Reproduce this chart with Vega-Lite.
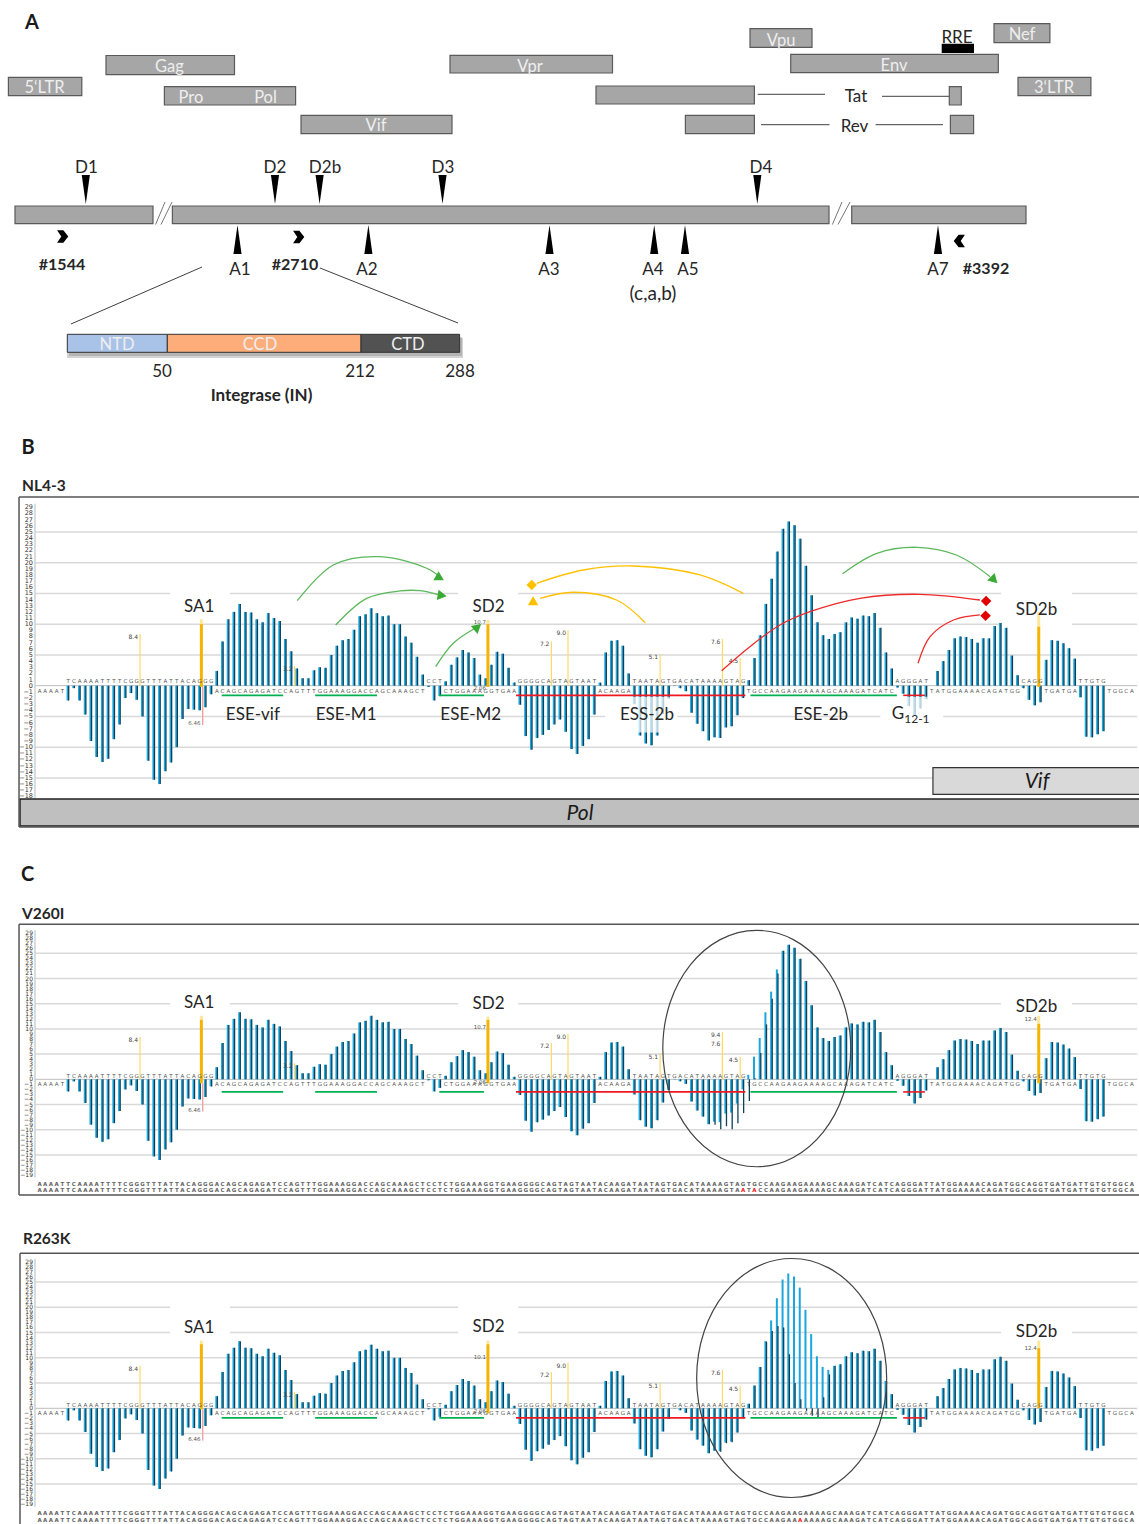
{"$schema":"https://vega.github.io/schema/vega-lite/v6.json","padding":0,"spacing":0,"background":"white","config":{"view":{"stroke":null},"axis":{"disable":true},"legend":{"disable":true},"text":{"font":"Lato"}},
"datasets":{
"seq":[{"p":0,"b":"A"},{"p":1,"b":"A"},{"p":2,"b":"A"},{"p":3,"b":"A"},{"p":4,"b":"T"},
{"p":5,"b":"T","w":-2.4,"v":-2.4,"r":-2.4},{"p":6,"b":"C","w":-0.4,"v":-0.4,"r":-0.4},{"p":7,"b":"A","w":-2.4,"v":-2.4,"r":-2.4},{"p":8,"b":"A","w":-4.7,"v":-4.7,"r":-4.7},{"p":9,"b":"A","w":-9,"v":-9,"r":-9},{"p":10,"b":"A","w":-11.6,"v":-11.6,"r":-11.6},{"p":11,"b":"T","w":-12.4,"v":-12.4,"r":-12.4},{"p":12,"b":"T","w":-11.9,"v":-11.9,"r":-11.9},{"p":13,"b":"T","w":-8.7,"v":-8.7,"r":-8.7},{"p":14,"b":"T","w":-6.3,"v":-6.3,"r":-6.3},{"p":15,"b":"C","w":-2,"v":-2,"r":-2},{"p":16,"b":"G","w":-1.2,"v":-1.2,"r":-1.2},{"p":17,"b":"G","w":-2.3,"v":-2.3,"r":-2.3},{"p":18,"b":"G","w":-5,"v":-5,"r":-5},{"p":19,"b":"T","w":-12.2,"v":-12.2,"r":-12.2},{"p":20,"b":"T","w":-15.3,"v":-15.3,"r":-15.3},{"p":21,"b":"T","w":-16,"v":-16,"r":-16},{"p":22,"b":"A","w":-13.9,"v":-13.9,"r":-13.9},{"p":23,"b":"T","w":-12.5,"v":-12.5,"r":-12.5},{"p":24,"b":"T","w":-10,"v":-10,"r":-10},{"p":25,"b":"A","w":-5.4,"v":-5.4,"r":-5.4},{"p":26,"b":"C","w":-3.8,"v":-3.8,"r":-3.8},{"p":27,"b":"A","w":-3.9,"v":-3.9,"r":-3.9},{"p":28,"b":"G","w":-4,"v":-4,"r":-4},{"p":29,"b":"G","w":-3.5,"v":-3.5,"r":-3.5},{"p":30,"b":"G","w":-1.4,"v":-1.4,"r":-1.4},
{"p":31,"b":"A","w":2.4,"v":2.4,"r":2.4},{"p":32,"b":"C","w":7.2,"v":7.2,"r":7.2},{"p":33,"b":"A","w":10.8,"v":10.8,"r":10.8},{"p":34,"b":"G","w":12,"v":12,"r":12},{"p":35,"b":"C","w":13.3,"v":13.3,"r":13.3},{"p":36,"b":"A","w":12,"v":12,"r":12},{"p":37,"b":"G","w":11.9,"v":11.9,"r":11.9},{"p":38,"b":"A","w":10.8,"v":10.8,"r":10.8},{"p":39,"b":"G","w":10.3,"v":10.3,"r":10.3},{"p":40,"b":"A","w":11.8,"v":11.8,"r":11.8},{"p":41,"b":"T","w":11,"v":11,"r":11},{"p":42,"b":"C","w":10.5,"v":10.5,"r":10.5},{"p":43,"b":"C","w":7.6,"v":7.6,"r":7.6},{"p":44,"b":"A","w":5.6,"v":5.6,"r":5.6},{"p":45,"b":"G","w":2.8,"v":2.8,"r":2.8},{"p":46,"b":"T","w":1.2,"v":1.2,"r":1.2},{"p":47,"b":"T","w":1.2,"v":1.2,"r":1.2},{"p":48,"b":"T","w":2.5,"v":2.5,"r":2.5},{"p":49,"b":"G","w":3,"v":3,"r":3},{"p":50,"b":"G","w":2.9,"v":2.9,"r":2.9},{"p":51,"b":"A","w":5,"v":5,"r":5},{"p":52,"b":"A","w":6.5,"v":6.5,"r":6.5},{"p":53,"b":"A","w":7.4,"v":7.4,"r":7.4},{"p":54,"b":"G","w":7.6,"v":7.6,"r":7.6},{"p":55,"b":"G","w":9.1,"v":9.1,"r":9.1},{"p":56,"b":"A","w":11.3,"v":11.3,"r":11.3},{"p":57,"b":"C","w":11.6,"v":11.6,"r":11.6},{"p":58,"b":"C","w":12.6,"v":12.6,"r":12.6},{"p":59,"b":"A","w":11.8,"v":11.8,"r":11.8},{"p":60,"b":"G","w":11.3,"v":11.3,"r":11.3},{"p":61,"b":"C","w":11.4,"v":11.4,"r":11.4},{"p":62,"b":"A","w":10,"v":10,"r":10},{"p":63,"b":"A","w":10,"v":10,"r":10},{"p":64,"b":"A","w":8,"v":8,"r":8},{"p":65,"b":"G","w":7,"v":7,"r":7},{"p":66,"b":"C","w":4.7,"v":4.7,"r":4.7},{"p":67,"b":"T","w":1.8,"v":1.8,"r":1.8},
{"p":68,"b":"C","w":-0.2,"v":-0.2,"r":-0.2},{"p":69,"b":"C","w":-2.4,"v":-2.4,"r":-2.4},{"p":70,"b":"T","w":-1.7,"v":-1.7,"r":-1.7},{"p":71,"b":"C","w":0.7,"v":0.7,"r":0.7},{"p":72,"b":"T","w":3.4,"v":3.4,"r":3.4},{"p":73,"b":"G","w":4.6,"v":4.6,"r":4.6},{"p":74,"b":"G","w":5.8,"v":5.8,"r":5.8},{"p":75,"b":"A","w":5.4,"v":5.4,"r":5.4},{"p":76,"b":"A","w":4.5,"v":4.5,"r":4.5},{"p":77,"b":"A","w":1.8,"v":1.8,"r":1.8},{"p":78,"b":"G","w":1.2,"v":1.2,"r":1.2},{"p":79,"b":"G","w":3.4,"v":3.4,"r":3.4},{"p":80,"b":"T","w":5.5,"v":5.5,"r":5.5},{"p":81,"b":"G","w":5.2,"v":5.2,"r":5.2},{"p":82,"b":"A","w":2.9,"v":2.9,"r":2.9},{"p":83,"b":"A","w":0.5,"v":0.5,"r":0.5},
{"p":84,"b":"G","w":-3.1,"v":-3.1,"r":-3.1},{"p":85,"b":"G","w":-8.2,"v":-8.2,"r":-8.2},{"p":86,"b":"G","w":-10.4,"v":-10.4,"r":-10.4},{"p":87,"b":"G","w":-8.5,"v":-8.5,"r":-8.5},{"p":88,"b":"C","w":-8,"v":-8,"r":-8},{"p":89,"b":"A","w":-7.2,"v":-7.2,"r":-7.2},{"p":90,"b":"G","w":-6.3,"v":-6.3,"r":-6.3},{"p":91,"b":"T","w":-5.5,"v":-5.5,"r":-5.5},{"p":92,"b":"A","w":-7.5,"v":-7.5,"r":-7.5},{"p":93,"b":"G","w":-10.3,"v":-10.3,"r":-10.3},{"p":94,"b":"T","w":-11.1,"v":-11.1,"r":-11.1},{"p":95,"b":"A","w":-9.8,"v":-9.8,"r":-9.8},{"p":96,"b":"A","w":-8.7,"v":-8.7,"r":-8.7},{"p":97,"b":"T","w":-4.7,"v":-4.7,"r":-4.7},
{"p":98,"b":"A","w":0.5,"v":0.5,"r":0.5},{"p":99,"b":"C","w":5.4,"v":5.4,"r":5.4},{"p":100,"b":"A","w":7.3,"v":7.3,"r":7.3},{"p":101,"b":"A","w":7.4,"v":7.4,"r":7.4},{"p":102,"b":"G","w":6.5,"v":6.5,"r":6.5},{"p":103,"b":"A","w":2,"v":2,"r":2},
{"p":104,"b":"T","w":-3,"v":-3,"r":-3},{"p":105,"b":"A","w":-8.1,"v":-8.1,"r":-8.1},{"p":106,"b":"A","w":-9.4,"v":-9.4,"r":-9.4},{"p":107,"b":"T","w":-9.7,"v":-9.7,"r":-9.7},{"p":108,"b":"A","w":-8.1,"v":-8.1,"r":-8.1},{"p":109,"b":"G","w":-4.6,"v":-4.6,"r":-4.6},{"p":110,"b":"T","w":-2.1,"v":-2.1,"r":-2.1},{"p":111,"b":"G","w":-0.05,"v":-0.05,"r":-0.05},{"p":112,"b":"A","w":-0.4,"v":-0.4,"r":-0.4},{"p":113,"b":"C","w":-0.9,"v":-0.9,"r":-0.9},{"p":114,"b":"A","w":-4.4,"v":-4.4,"r":-4.4},{"p":115,"b":"T","w":-6.2,"v":-6.2,"r":-6.2},{"p":116,"b":"A","w":-7.4,"v":-7.4,"r":-7.4},{"p":117,"b":"A","w":-8.9,"v":-8.9,"r":-8.9},{"p":118,"b":"A","w":-8.4,"v":-9,"r":-8.4},{"p":119,"b":"A","w":-8.5,"v":-9.9,"r":-8.6},{"p":120,"b":"G","w":-6.8,"v":-9.3,"r":-6.9},{"p":121,"b":"T","w":-6.6,"v":-9.9,"r":-6.7},{"p":122,"b":"A","w":-4.8,"v":-8.7,"r":-4.8},{"p":123,"b":"G","w":-2,"v":-6.7,"r":-2},
{"p":124,"b":"T","w":0.9,"v":-4.3,"r":0.9},{"p":125,"b":"G","w":4.5,"v":0.2,"r":4.5},{"p":126,"b":"C","w":8.2,"v":5.2,"r":8.2},{"p":127,"b":"C","w":13.3,"v":10.9,"r":13.2},{"p":128,"b":"A","w":17.4,"v":16,"r":15.3},{"p":129,"b":"A","w":21.8,"v":21,"r":16.3},{"p":130,"b":"G","w":25.5,"v":25.5,"r":16},{"p":131,"b":"A","w":26.7,"v":26.7,"r":10.7},{"p":132,"b":"A","w":26.1,"v":26.1,"r":5},{"p":133,"b":"G","w":23.9,"v":23.9,"r":1.8},{"p":134,"b":"A","w":19.5,"v":19.5,"r":-0.5},{"p":135,"b":"A","w":14.7,"v":14.7,"r":-1.5},{"p":136,"b":"A","w":10.3,"v":10.3,"r":-1.8},{"p":137,"b":"A","w":8.2,"v":8.2,"r":2.2},{"p":138,"b":"G","w":7.6,"v":7.6,"r":6.7},{"p":139,"b":"C","w":8.4,"v":8.4,"r":8.4},{"p":140,"b":"A","w":8.7,"v":8.7,"r":8.7},{"p":141,"b":"A","w":10.3,"v":10.3,"r":10.3},{"p":142,"b":"A","w":11.1,"v":11.1,"r":11.1},{"p":143,"b":"G","w":10.9,"v":10.9,"r":10.9},{"p":144,"b":"A","w":11.4,"v":11.4,"r":11.4},{"p":145,"b":"T","w":11.3,"v":11.3,"r":11.3},{"p":146,"b":"C","w":11.8,"v":11.8,"r":11.8},{"p":147,"b":"A","w":9.4,"v":9.4,"r":9.4},{"p":148,"b":"T","w":5.4,"v":5.4,"r":5.4},{"p":149,"b":"C","w":2.8,"v":2.8,"r":2.8},
{"p":150,"b":"A","w":-0.3,"v":-0.3,"r":-0.3},{"p":151,"b":"G","w":-1.3,"v":-1.3,"r":-1.3},{"p":152,"b":"G","w":-3.3,"v":-3.3,"r":-3.3},{"p":153,"b":"G","w":-4.8,"v":-4.8,"r":-4.8},{"p":154,"b":"A","w":-3.7,"v":-3.7,"r":-3.7},{"p":155,"b":"T","w":-2.2,"v":-2.2,"r":-2.2},{"p":156,"b":"T"},
{"p":157,"b":"A","w":2.4,"v":2.4,"r":2.4},{"p":158,"b":"T","w":4,"v":4,"r":4},{"p":159,"b":"G","w":5.8,"v":5.8,"r":5.8},{"p":160,"b":"G","w":7.7,"v":7.7,"r":7.7},{"p":161,"b":"A","w":8,"v":8,"r":8},{"p":162,"b":"A","w":7.9,"v":7.9,"r":7.9},{"p":163,"b":"A","w":7.6,"v":7.6,"r":7.6},{"p":164,"b":"A","w":7,"v":7,"r":7},{"p":165,"b":"C","w":7.7,"v":7.7,"r":7.7},{"p":166,"b":"A","w":7.7,"v":7.7,"r":7.7},{"p":167,"b":"G","w":9.7,"v":9.7,"r":9.7},{"p":168,"b":"A","w":10.2,"v":10.2,"r":10.2},{"p":169,"b":"T","w":9.4,"v":9.4,"r":9.4},{"p":170,"b":"G","w":4.9,"v":4.9,"r":4.9},{"p":171,"b":"G","w":1.7,"v":1.7,"r":1.7},
{"p":172,"b":"C","w":-0.4,"v":-0.4,"r":-0.4},{"p":173,"b":"A","w":-2.3,"v":-2.3,"r":-2.3},{"p":174,"b":"G","w":-3.2,"v":-3.2,"r":-3.2},{"p":175,"b":"G","w":-2.7,"v":-2.7,"r":-2.7},
{"p":176,"b":"T","w":4.2,"v":4.2,"r":4.2},{"p":177,"b":"G","w":7.4,"v":7.4,"r":7.4},{"p":178,"b":"A","w":7.3,"v":7.3,"r":7.3},{"p":179,"b":"T","w":6.9,"v":6.9,"r":6.9},{"p":180,"b":"G","w":6.1,"v":6.1,"r":6.1},{"p":181,"b":"A","w":4.4,"v":4.4,"r":4.4},
{"p":182,"b":"T","w":-1.9,"v":-1.9,"r":-1.9},{"p":183,"b":"T","w":-8.3,"v":-8.3,"r":-8.3},{"p":184,"b":"G","w":-8.4,"v":-8.4,"r":-8.4},{"p":185,"b":"T","w":-7.9,"v":-7.9,"r":-7.9},{"p":186,"b":"G","w":-7.4,"v":-7.4,"r":-7.4},
{"p":187,"b":"T"},{"p":188,"b":"G"},{"p":189,"b":"G"},{"p":190,"b":"C"},{"p":191,"b":"A"}],
"ticks":[{"t":29},{"t":28},{"t":27},{"t":26},{"t":25},{"t":24},{"t":23},{"t":22},{"t":21},{"t":20},{"t":19},{"t":18},{"t":17},{"t":16},{"t":15},{"t":14},{"t":13},{"t":12},{"t":11},{"t":10},{"t":9},{"t":8},{"t":7},{"t":6},{"t":5},{"t":4},{"t":3},{"t":2},{"t":1},{"t":0},{"t":-1},{"t":-2},{"t":-3},{"t":-4},{"t":-5},{"t":-6},{"t":-7},{"t":-8},{"t":-9},{"t":-10},{"t":-11},{"t":-12},{"t":-13},{"t":-14},{"t":-15},{"t":-16},{"t":-17},{"t":-18},{"t":-19}],
"grid":[{"g":25},{"g":20},{"g":15},{"g":10},{"g":5},{"g":-5},{"g":-10},{"g":-15}],
"under":[{"p1":31.85,"p2":42.6,"k":"ESE"},{"p1":48.2,"p2":59,"k":"ESE"},{"p1":69.9,"p2":77.7,"k":"ESE"},{"p1":83.3,"p2":123.4,"k":"ESS"},{"p1":124.3,"p2":149.9,"k":"ESE"},{"p1":151,"p2":154.8,"k":"ESS"}],
"masksB":[{"x1":22.8,"x2":33.3,"y1":14.4,"y2":15.6},{"x1":73.2,"x2":83.7,"y1":14.4,"y2":15.6},{"x1":168.1,"x2":180.5,"y1":9.4,"y2":15.6},{"x1":147,"x2":158,"y1":-4.6,"y2":-5.4},{"x1":98.9,"x2":111.5,"y1":-4.6,"y2":-5.4}],
"masksC":[{"x1":22.8,"x2":33.3,"y1":14.5,"y2":15.5},{"x1":73.2,"x2":83.7,"y1":14.5,"y2":15.5},{"x1":168.1,"x2":180.5,"y1":14.5,"y2":15.5}],
"masksR":[{"x1":22.8,"x2":33.3,"y1":14.5,"y2":15.5},{"x1":73.2,"x2":83.7,"y1":14.5,"y2":15.5},{"x1":168.1,"x2":180.5,"y1":14.5,"y2":15.5},{"x1":22.8,"x2":33.3,"y1":19.5,"y2":20.5},{"x1":73.2,"x2":83.7,"y1":19.5,"y2":20.5}],
"veilB":[{"x1":103.6,"x2":110.2,"y1":-1.8,"y2":-7.6},{"x1":150.4,"x2":155.3,"y1":-1.8,"y2":-4.9}],
"sitesB":[{"p":17.57,"s":8.4},{"p":44.6,"s":3.2},{"p":89.5,"s":7.2},{"p":92.4,"s":9},{"p":108.5,"s":5.1},{"p":119.4,"s":7.6},{"p":122.5,"s":4.5}],
"sitesC":[{"p":17.57,"s":8.4},{"p":44.6,"s":3.2},{"p":89.5,"s":7.2},{"p":92.4,"s":9},{"p":108.5,"s":5.1},{"p":119.4,"s":9.4},{"p":119.4,"s":7.6},{"p":122.5,"s":4.5}],
"donorsB":[{"p":28.3,"light":10.8,"dark":10,"low":-0.2},{"p":78.4,"light":10.7,"dark":10,"low":-0.2},{"p":174.7,"light":12,"dark":9.6,"low":-0.2}],
"donorsC":[{"p":28.3,"light":12.6,"dark":11.8,"low":-0.8},{"p":78.4,"light":12.45,"dark":11.8,"low":-0.8},{"p":174.7,"light":12.6,"dark":11,"low":-0.8}],
"donorsR":[{"p":28.3,"light":13.4,"dark":12.7,"low":-0.2},{"p":78.4,"light":13.4,"dark":12.7,"low":-1},{"p":174.7,"light":13.4,"dark":11.9,"low":0}],
"notesB":[{"p":78.4,"y":10.3,"t":"10.7"},{"p":78.4,"y":-0.45,"t":"2.06"},{"p":28.5,"y":-6,"t":"6.46"}],
"notesC":[{"p":78.4,"y":10.3,"t":"10.7"},{"p":78.4,"y":-0.5,"t":"2.06"},{"p":28.5,"y":-6,"t":"6.46"},{"p":174.7,"y":12,"t":"12.4"}],
"notesR":[{"p":78.4,"y":10.2,"t":"10.1"},{"p":78.4,"y":-0.5,"t":"2.06"},{"p":28.5,"y":-6.07,"t":"6.46"},{"p":174.7,"y":11.9,"t":"12.4"}],
"labelsB":[{"p":27.9,"y":13.1,"t":"SA1"},{"p":78.5,"y":13.1,"t":"SD2"},{"p":174.3,"y":12.47,"t":"SD2b"},{"p":37.3,"y":-4.6,"t":"ESE-vif"},{"p":53.6,"y":-4.6,"t":"ESE-M1"},{"p":75.4,"y":-4.6,"t":"ESE-M2"},{"p":106.2,"y":-4.6,"t":"ESS-2b"},{"p":136.6,"y":-4.6,"t":"ESE-2b"},{"p":150.1,"y":-4.44,"t":"G"}],
"labelsC":[{"p":27.9,"y":15.4,"t":"SA1"},{"p":78.5,"y":15.34,"t":"SD2"},{"p":174.3,"y":14.6,"t":"SD2b"}],
"labelsR":[{"p":27.9,"y":16.2,"t":"SA1"},{"p":78.5,"y":16.3,"t":"SD2"},{"p":174.3,"y":15.4,"t":"SD2b"}],
"curves":[
{"c":"g1","k":"green","p":45.07,"y":13.82},{"c":"g1","k":"green","p":51.36,"y":19.63},{"c":"g1","k":"green","p":59.53,"y":20.98},{"c":"g1","k":"green","p":67.69,"y":19.09},{"c":"g1","k":"green","p":70.02,"y":17.67},
{"c":"g2","k":"green","p":51.78,"y":9.87},{"c":"g2","k":"green","p":57.2,"y":14.2},{"c":"g2","k":"green","p":63.02,"y":15.4},{"c":"g2","k":"green","p":66.5,"y":15.45},{"c":"g2","k":"green","p":70.2,"y":14.67},
{"c":"g3","k":"green","p":69.27,"y":3.09},{"c":"g3","k":"green","p":72.34,"y":6.89},{"c":"g3","k":"green","p":76.14,"y":9.33},
{"c":"g4","k":"green","p":140.4,"y":18.21},{"c":"g4","k":"green","p":146.4,"y":21.53},{"c":"g4","k":"green","p":153.4,"y":22.5},{"c":"g4","k":"green","p":160.3,"y":21.25},{"c":"g4","k":"green","p":166.2,"y":17.72},
{"c":"y1","k":"yellow","p":86.92,"y":16.65},{"c":"y1","k":"yellow","p":95.07,"y":18.81},{"c":"y1","k":"yellow","p":103.8,"y":19.46},{"c":"y1","k":"yellow","p":115.47,"y":18},{"c":"y1","k":"yellow","p":123.04,"y":15.02},
{"c":"y2","k":"yellow","p":87.5,"y":14.2},{"c":"y2","k":"yellow","p":93.3,"y":15.19},{"c":"y2","k":"yellow","p":100.9,"y":13.93},{"c":"y2","k":"yellow","p":105.9,"y":10.24},
{"c":"r1","k":"red","p":119.27,"y":2.44},{"c":"r1","k":"red","p":124.2,"y":6.34},{"c":"r1","k":"red","p":129.46,"y":9.87},{"c":"r1","k":"red","p":134.7,"y":12.03},{"c":"r1","k":"red","p":143.45,"y":14.21},{"c":"r1","k":"red","p":153.9,"y":14.86},{"c":"r1","k":"red","p":164.4,"y":13.93},
{"c":"r2","k":"red","p":153.6,"y":3.64},{"c":"r2","k":"red","p":155.7,"y":7.97},{"c":"r2","k":"red","p":159.8,"y":10.68},{"c":"r2","k":"red","p":164.4,"y":11.5}],
"heads":[{"k":"headGreen","sh":"triangle-up","a":120,"p":70.0,"y":17.5},{"k":"headGreen","sh":"triangle-up","a":100,"p":70.4,"y":14.65},{"k":"headGreen","sh":"triangle-up","a":50,"p":76.6,"y":9.54},{"k":"headGreen","sh":"triangle-up","a":135,"p":166.9,"y":17.19},{"k":"yellow","sh":"diamond","a":0,"p":86.05,"y":16.37},{"k":"yellow","sh":"triangle-up","a":0,"p":86.3,"y":13.82},{"k":"headRed","sh":"diamond","a":0,"p":165.5,"y":13.77},{"k":"headRed","sh":"diamond","a":0,"p":165.4,"y":11.38}],
"mutC":[{"p":123,"b":"A"},{"p":125,"b":"A"}],"mutR":[{"p":133,"b":"A"}],
"genes":[{"x1":8.4,"x2":81.8,"y1":77.3,"y2":95.7},{"x1":106,"x2":234.5,"y1":55.5,"y2":74.7},{"x1":164.4,"x2":295.6,"y1":86.7,"y2":105},{"x1":301,"x2":452,"y1":115.3,"y2":133.7},{"x1":450,"x2":612.5,"y1":55.3,"y2":73},{"x1":750,"x2":812,"y1":28.7,"y2":47.3},{"x1":790.7,"x2":998.3,"y1":54.3,"y2":72.7},{"x1":994,"x2":1049.9,"y1":23.7,"y2":42.7},{"x1":1018,"x2":1090.9,"y1":77.3,"y2":95.7},{"x1":596,"x2":754.4,"y1":86,"y2":104},{"x1":949.3,"x2":961.3,"y1":86.7,"y2":105},{"x1":685.4,"x2":754.4,"y1":115.3,"y2":133.7},{"x1":950.4,"x2":973.6,"y1":115.3,"y2":133.7},{"x1":15,"x2":153,"y1":206,"y2":223.7},{"x1":172.4,"x2":829,"y1":206,"y2":223.7},{"x1":851.7,"x2":1026,"y1":206,"y2":223.7}],
"rre":[{"x1":941.7,"x2":974,"y1":43.7,"y2":53}],
"links":[{"x1":757.7,"x2":825,"y1":94.3,"y2":94.3},{"x1":882,"x2":949,"y1":96.3,"y2":96.3},{"x1":761,"x2":829.5,"y1":124.7,"y2":124.7},{"x1":875.6,"x2":943,"y1":124.7,"y2":124.7},{"x1":202,"x2":71,"y1":267,"y2":324},{"x1":320,"x2":458,"y1":268,"y2":323}],
"breaks":[{"x1":155.6,"x2":165,"y1":224.5,"y2":202},{"x1":161,"x2":172,"y1":224.5,"y2":202},{"x1":832.4,"x2":842,"y1":224.5,"y2":202},{"x1":838,"x2":850,"y1":224.5,"y2":202}],
"donorSites":[{"x":85.8,"y":189.5},{"x":275,"y":189.5},{"x":319.6,"y":189.5},{"x":442.5,"y":189.5},{"x":757.3,"y":189.5}],
"acceptorSites":[{"x":237.5,"y":239.6},{"x":368.4,"y":239.6},{"x":549.5,"y":239.6},{"x":654.2,"y":239.6},{"x":685,"y":239.6},{"x":938,"y":239.6}],
"primersF":[{"x":62,"y":236.5},{"x":298,"y":237}],"primersR":[{"x":960,"y":241}],
"inShadow":[{"x1":67,"x2":463,"y1":338,"y2":358},{"x1":69,"x2":462,"y1":337,"y2":356}],
"domains":[{"d":"NTD","x1":67.3,"x2":167.3,"y1":334.3,"y2":352.3},{"d":"CCD","x1":167.3,"x2":361,"y1":334.3,"y2":352.3},{"d":"CTD","x1":361,"x2":459.6,"y1":334.3,"y2":352.3}],
"geneText":[{"x":44.5,"y":86.5,"t":"5‘LTR"},{"x":169.5,"y":65,"t":"Gag"},{"x":191,"y":96,"t":"Pro"},{"x":265.5,"y":96,"t":"Pol"},{"x":376,"y":124,"t":"Vif"},{"x":530,"y":65,"t":"Vpr"},{"x":781,"y":39,"t":"Vpu"},{"x":894,"y":64,"t":"Env"},{"x":1022,"y":33,"t":"Nef"},{"x":1054,"y":86.5,"t":"3‘LTR"},{"x":117,"y":343.5,"t":"NTD"},{"x":260,"y":343.5,"t":"CCD"},{"x":408,"y":343.5,"t":"CTD"}],
"darkText":[{"x":856,"y":95,"t":"Tat"},{"x":854.5,"y":125.7,"t":"Rev"},{"x":957,"y":36,"t":"RRE"},{"x":86.5,"y":166,"t":"D1"},{"x":275,"y":166,"t":"D2"},{"x":325,"y":166,"t":"D2b"},{"x":443,"y":166,"t":"D3"},{"x":761,"y":166,"t":"D4"},{"x":240,"y":268,"t":"A1"},{"x":367,"y":268,"t":"A2"},{"x":549,"y":268,"t":"A3"},{"x":653,"y":268,"t":"A4"},{"x":688,"y":268,"t":"A5"},{"x":938,"y":268,"t":"A7"},{"x":162,"y":370,"t":"50"},{"x":360,"y":370,"t":"212"},{"x":460,"y":370,"t":"288"}],
"boldText":[{"x":62,"y":263,"t":"#1544"},{"x":295,"y":263,"t":"#2710"},{"x":986,"y":267,"t":"#3392"}],
"panelLetters":[{"x":32,"y":21,"t":"A"},{"x":28,"y":446,"t":"B"}]
},
"vconcat":[
{"width":1139,"height":470,"layer":[
{"data":{"name":"inShadow"},"mark":{"type":"rect","fill":"#555","opacity":0.25},"encoding":{"x":{"field":"x1","type":"quantitative","scale":{"domain":[0,1139],"nice":false,"zero":false}},"x2":{"field":"x2"},"y":{"field":"y1","type":"quantitative","scale":{"domain":[470,0],"nice":false,"zero":false}},"y2":{"field":"y2"}}},
{"data":{"name":"genes"},"mark":{"type":"rect","fill":"#a6a6a6","stroke":"#5a5a5a","strokeWidth":1.2},"encoding":{"x":{"field":"x1","type":"quantitative"},"x2":{"field":"x2"},"y":{"field":"y1","type":"quantitative"},"y2":{"field":"y2"}}},
{"data":{"name":"rre"},"mark":{"type":"rect","fill":"#000"},"encoding":{"x":{"field":"x1","type":"quantitative"},"x2":{"field":"x2"},"y":{"field":"y1","type":"quantitative"},"y2":{"field":"y2"}}},
{"data":{"name":"domains"},"mark":{"type":"rect","stroke":"#333","strokeWidth":1},"encoding":{"x":{"field":"x1","type":"quantitative"},"x2":{"field":"x2"},"y":{"field":"y1","type":"quantitative"},"y2":{"field":"y2"},"color":{"field":"d","type":"nominal","scale":{"domain":["NTD","CCD","CTD","ESE","ESS","green","yellow","red","headGreen","headRed"],"range":["#a9c3e8","#fdad7a","#525252","#00b050","#f01820","#5cb85c","#ffc000","#ee2a2a","#3aaa35","#e00000"]}}}},
{"data":{"name":"links"},"mark":{"type":"rule","stroke":"#404040","strokeWidth":1},"encoding":{"x":{"field":"x1","type":"quantitative"},"x2":{"field":"x2"},"y":{"field":"y1","type":"quantitative"},"y2":{"field":"y2"}}},
{"data":{"name":"breaks"},"mark":{"type":"rule","stroke":"#777","strokeWidth":1},"encoding":{"x":{"field":"x1","type":"quantitative"},"x2":{"field":"x2"},"y":{"field":"y1","type":"quantitative"},"y2":{"field":"y2"}}},
{"data":{"name":"donorSites"},"mark":{"type":"point","filled":true,"fill":"#000","opacity":1,"strokeWidth":0,"size":841,"shape":"M-0.28,-1L0.28,-1L0,1Z"},"encoding":{"x":{"field":"x","type":"quantitative"},"y":{"field":"y","type":"quantitative"}}},
{"data":{"name":"acceptorSites"},"mark":{"type":"point","filled":true,"fill":"#000","opacity":1,"strokeWidth":0,"size":841,"shape":"M-0.28,1L0.28,1L0,-1Z"},"encoding":{"x":{"field":"x","type":"quantitative"},"y":{"field":"y","type":"quantitative"}}},
{"data":{"name":"primersF"},"mark":{"type":"point","filled":true,"fill":"#000","opacity":1,"strokeWidth":0,"size":196,"shape":"M-0.7,-0.9L0.2,-0.9L0.9,0L0.2,0.9L-0.7,0.9L-0.1,0Z"},"encoding":{"x":{"field":"x","type":"quantitative"},"y":{"field":"y","type":"quantitative"}}},
{"data":{"name":"primersR"},"mark":{"type":"point","filled":true,"fill":"#000","opacity":1,"strokeWidth":0,"size":196,"shape":"M0.7,-0.9L-0.2,-0.9L-0.9,0L-0.2,0.9L0.7,0.9L0.1,0Z"},"encoding":{"x":{"field":"x","type":"quantitative"},"y":{"field":"y","type":"quantitative"}}},
{"data":{"name":"geneText"},"mark":{"type":"text","fontSize":16.5,"fill":"#eeeeee","baseline":"middle","dy":1.5},"encoding":{"x":{"field":"x","type":"quantitative"},"y":{"field":"y","type":"quantitative"},"text":{"field":"t"}}},
{"data":{"name":"darkText"},"mark":{"type":"text","fontSize":17,"fill":"#262626","baseline":"middle","dy":1.5},"encoding":{"x":{"field":"x","type":"quantitative"},"y":{"field":"y","type":"quantitative"},"text":{"field":"t"}}},
{"data":{"values":[{"x":653,"y":292,"t":"(c,a,b)"}]},"mark":{"type":"text","fontSize":19,"fill":"#262626","baseline":"middle","dy":1.5},"encoding":{"x":{"field":"x","type":"quantitative"},"y":{"field":"y","type":"quantitative"},"text":{"field":"t"}}},
{"data":{"name":"boldText"},"mark":{"type":"text","fontSize":16,"fontWeight":"bold","fill":"#262626","baseline":"middle","dy":1.5},"encoding":{"x":{"field":"x","type":"quantitative"},"y":{"field":"y","type":"quantitative"},"text":{"field":"t"}}},
{"data":{"values":[{"x":261.5,"y":394,"t":"Integrase (IN)"}]},"mark":{"type":"text","fontSize":17,"fontWeight":"bold","fill":"#262626","baseline":"middle","dy":1.5},"encoding":{"x":{"field":"x","type":"quantitative"},"y":{"field":"y","type":"quantitative"},"text":{"field":"t"}}},
{"data":{"name":"panelLetters"},"mark":{"type":"text","fontSize":20,"fontWeight":"bold","fill":"#1a1a1a","baseline":"middle","dy":1.5},"encoding":{"x":{"field":"x","type":"quantitative"},"y":{"field":"y","type":"quantitative"},"text":{"field":"t"}}}
]},
{"width":1139,"height":430,"layer":[
{"data":{"name":"grid"},"mark":{"type":"rule","stroke":"#d9d9d9","strokeWidth":1.5},"encoding":{"x":{"datum":-0.79,"type":"quantitative","scale":{"domain":[-6.906,192.227],"nice":false,"zero":false}},"x2":{"datum":191.9},"y":{"field":"g","type":"quantitative","scale":{"domain":[-34.85,35.07],"nice":false,"zero":false}}}},
{"data":{"name":"masksB"},"mark":{"type":"rect","fill":"white"},"encoding":{"x":{"field":"x1","type":"quantitative"},"x2":{"field":"x2"},"y":{"field":"y1","type":"quantitative"},"y2":{"field":"y2"}}},
{"data":{"values":[{"g":0}]},"mark":{"type":"rule","stroke":"#bdbdbd","strokeWidth":1},"encoding":{"x":{"datum":-0.79,"type":"quantitative"},"x2":{"datum":191.9},"y":{"field":"g","type":"quantitative"}}},
{"data":{"values":[{"g":29.6,"h":-18.5}]},"mark":{"type":"rule","stroke":"#d0d0d0","strokeWidth":1.5},"encoding":{"x":{"datum":-0.79,"type":"quantitative"},"y":{"field":"g","type":"quantitative"},"y2":{"field":"h"}}},
{"data":{"name":"seq"},"mark":{"type":"rule","stroke":"#1ba6dd","strokeWidth":2,"xOffset":-0.5},"encoding":{"x":{"field":"p","type":"quantitative"},"y":{"field":"w","type":"quantitative"},"y2":{"datum":0}}},
{"data":{"name":"seq"},"mark":{"type":"rule","stroke":"#0d4058","strokeWidth":1.3,"xOffset":0.6},"encoding":{"x":{"field":"p","type":"quantitative"},"y":{"field":"w","type":"quantitative"},"y2":{"datum":0}}},
{"data":{"name":"sitesB"},"mark":{"type":"rule","stroke":"#ffd966","strokeWidth":1.2},"encoding":{"x":{"field":"p","type":"quantitative"},"y":{"field":"s","type":"quantitative"},"y2":{"datum":0}}},
{"data":{"name":"sitesB"},"mark":{"type":"text","fontSize":6,"font":"DejaVu Sans","fill":"#444","align":"right","dx":-2,"dy":3},"encoding":{"x":{"field":"p","type":"quantitative"},"y":{"field":"s","type":"quantitative"},"text":{"field":"s","type":"quantitative","format":".1f"}}},
{"data":{"name":"donorsB"},"mark":{"type":"rule","stroke":"#ffe699","strokeWidth":3},"encoding":{"x":{"field":"p","type":"quantitative"},"y":{"field":"light","type":"quantitative"},"y2":{"field":"dark"}}},
{"data":{"name":"donorsB"},"mark":{"type":"rule","stroke":"#f6b300","strokeWidth":3},"encoding":{"x":{"field":"p","type":"quantitative"},"y":{"field":"dark","type":"quantitative"},"y2":{"field":"low"}}},
{"data":{"values":[{"p":28.53,"y":-6.4}]},"mark":{"type":"rule","stroke":"#f4a0a0","strokeWidth":1.4},"encoding":{"x":{"field":"p","type":"quantitative"},"y":{"field":"y","type":"quantitative"},"y2":{"datum":-0.2}}},
{"data":{"name":"notesB"},"mark":{"type":"text","fontSize":5.5,"font":"DejaVu Sans","fill":"#666","align":"right","dx":-2,"baseline":"middle"},"encoding":{"x":{"field":"p","type":"quantitative"},"y":{"field":"y","type":"quantitative"},"text":{"field":"t"}}},
{"data":{"name":"veilB"},"mark":{"type":"rect","fill":"white","opacity":0.72},"encoding":{"x":{"field":"x1","type":"quantitative"},"x2":{"field":"x2"},"y":{"field":"y1","type":"quantitative"},"y2":{"field":"y2"}}},
{"data":{"name":"seq"},"transform":[{"filter":"datum.w<0"}],"mark":{"type":"text","fontSize":5.5,"font":"DejaVu Sans","fill":"#555","baseline":"middle"},"encoding":{"x":{"field":"p","type":"quantitative"},"y":{"datum":0.7},"text":{"field":"b"}}},
{"data":{"name":"seq"},"transform":[{"filter":"!(datum.w<0)"}],"mark":{"type":"text","fontSize":5.5,"font":"DejaVu Sans","fill":"#555","baseline":"middle"},"encoding":{"x":{"field":"p","type":"quantitative"},"y":{"datum":-0.81},"text":{"field":"b"}}},
{"data":{"name":"under"},"mark":{"type":"rule","strokeWidth":1.6},"encoding":{"x":{"field":"p1","type":"quantitative"},"x2":{"field":"p2"},"y":{"datum":-1.57},"color":{"field":"k","type":"nominal","scale":{"domain":["NTD","CCD","CTD","ESE","ESS","green","yellow","red","headGreen","headRed"],"range":["#a9c3e8","#fdad7a","#525252","#00b050","#f01820","#5cb85c","#ffc000","#ee2a2a","#3aaa35","#e00000"]}}}},
{"data":{"name":"ticks"},"transform":[{"filter":"datum.t>=-18"}],"mark":{"type":"text","fontSize":6.5,"font":"DejaVu Sans","fill":"#333","align":"right","baseline":"middle"},"encoding":{"x":{"datum":-1.14},"y":{"field":"t","type":"quantitative"},"text":{"field":"t","type":"quantitative"}}},
{"data":{"name":"labelsB"},"mark":{"type":"text","fontSize":17,"fill":"#262626","baseline":"middle","dy":1.5},"encoding":{"x":{"field":"p","type":"quantitative"},"y":{"field":"y","type":"quantitative"},"text":{"field":"t"}}},
{"data":{"values":[{"p":153.4,"y":-5.25,"t":"12-1"}]},"mark":{"type":"text","fontSize":12,"fill":"#262626","baseline":"middle","dy":1},"encoding":{"x":{"field":"p","type":"quantitative"},"y":{"field":"y","type":"quantitative"},"text":{"field":"t"}}},
{"data":{"name":"curves"},"mark":{"type":"line","interpolate":"catmull-rom","strokeWidth":1.3},"encoding":{"x":{"field":"p","type":"quantitative"},"y":{"field":"y","type":"quantitative"},"detail":{"field":"c"},"color":{"field":"k","type":"nominal","scale":{"domain":["NTD","CCD","CTD","ESE","ESS","green","yellow","red","headGreen","headRed"],"range":["#a9c3e8","#fdad7a","#525252","#00b050","#f01820","#5cb85c","#ffc000","#ee2a2a","#3aaa35","#e00000"]}}}},
{"data":{"name":"heads"},"mark":{"type":"point","filled":true,"opacity":1,"strokeWidth":0,"size":110},"encoding":{"x":{"field":"p","type":"quantitative"},"y":{"field":"y","type":"quantitative"},"shape":{"field":"sh","type":"nominal","scale":null},"angle":{"field":"a","type":"quantitative","scale":null},"color":{"field":"k","type":"nominal","scale":{"domain":["NTD","CCD","CTD","ESE","ESS","green","yellow","red","headGreen","headRed"],"range":["#a9c3e8","#fdad7a","#525252","#00b050","#f01820","#5cb85c","#ffc000","#ee2a2a","#3aaa35","#e00000"]}}}},
{"data":{"values":[{"x1":-3.41,"x2":193,"y1":-18.42,"y2":-22.8}]},"mark":{"type":"rect","fill":"#bfbfbf","stroke":"#222","strokeWidth":1.5,"clip":true},"encoding":{"x":{"field":"x1","type":"quantitative"},"x2":{"field":"x2"},"y":{"field":"y1","type":"quantitative"},"y2":{"field":"y2"}}},
{"data":{"values":[{"x1":156.2,"x2":193,"y1":-13.33,"y2":-17.66}]},"mark":{"type":"rect","fill":"#d9d9d9","stroke":"#333","strokeWidth":1.2,"clip":true},"encoding":{"x":{"field":"x1","type":"quantitative"},"x2":{"field":"x2"},"y":{"field":"y1","type":"quantitative"},"y2":{"field":"y2"}}},
{"data":{"values":[{"p":94.5,"y":-20.6,"t":"Pol"},{"p":174.4,"y":-15.5,"t":"Vif"}]},"mark":{"type":"text","fontSize":21,"fontStyle":"italic","fill":"#1a1a1a","baseline":"middle","dy":1.5},"encoding":{"x":{"field":"p","type":"quantitative"},"y":{"field":"y","type":"quantitative"},"text":{"field":"t"}}},
{"data":{"values":[{"x1":-3.58,"x2":192.227,"y":30.68},{"x1":-3.58,"x2":192.227,"y":-22.98}]},"mark":{"type":"rule","stroke":"#555","strokeWidth":1.5},"encoding":{"x":{"field":"x1","type":"quantitative"},"x2":{"field":"x2"},"y":{"field":"y","type":"quantitative"}}},
{"data":{"values":[{"x":-3.58,"y1":30.68,"y2":-22.98}]},"mark":{"type":"rule","stroke":"#555","strokeWidth":1.5},"encoding":{"x":{"field":"x","type":"quantitative"},"y":{"field":"y1","type":"quantitative"},"y2":{"field":"y2"}}},
{"data":{"values":[{"p":-3.06,"y":32.63,"t":"NL4-3"}]},"mark":{"type":"text","fontSize":15.5,"fontWeight":"bold","fill":"#262626","align":"left","baseline":"middle","dy":1},"encoding":{"x":{"field":"p","type":"quantitative"},"y":{"field":"y","type":"quantitative"},"text":{"field":"t"}}},
{"data":{"values":[{"p":-2.1,"y":-30.47,"t":"C"}]},"mark":{"type":"text","fontSize":20,"fontWeight":"bold","fill":"#1a1a1a","baseline":"middle","dy":1.5},"encoding":{"x":{"field":"p","type":"quantitative"},"y":{"field":"y","type":"quantitative"},"text":{"field":"t"}}}
]},
{"width":1139,"height":328,"layer":[
{"data":{"name":"grid"},"mark":{"type":"rule","stroke":"#d9d9d9","strokeWidth":1.5},"encoding":{"x":{"datum":-0.79,"type":"quantitative","scale":{"domain":[-6.906,192.227],"nice":false,"zero":false}},"x2":{"datum":191.9},"y":{"field":"g","type":"quantitative","scale":{"domain":[-29.5,35.58],"nice":false,"zero":false}}}},
{"data":{"name":"masksC"},"mark":{"type":"rect","fill":"white"},"encoding":{"x":{"field":"x1","type":"quantitative"},"x2":{"field":"x2"},"y":{"field":"y1","type":"quantitative"},"y2":{"field":"y2"}}},
{"data":{"values":[{"g":0}]},"mark":{"type":"rule","stroke":"#bdbdbd","strokeWidth":1},"encoding":{"x":{"datum":-0.79,"type":"quantitative"},"x2":{"datum":191.9},"y":{"field":"g","type":"quantitative"}}},
{"data":{"values":[{"g":29.6,"h":-19.5}]},"mark":{"type":"rule","stroke":"#d0d0d0","strokeWidth":1.5},"encoding":{"x":{"datum":-0.79,"type":"quantitative"},"y":{"field":"g","type":"quantitative"},"y2":{"field":"h"}}},
{"data":{"name":"seq"},"mark":{"type":"rule","stroke":"#1ba6dd","strokeWidth":2,"xOffset":-0.5},"encoding":{"x":{"field":"p","type":"quantitative"},"y":{"field":"w","type":"quantitative"},"y2":{"datum":0}}},
{"data":{"name":"seq"},"mark":{"type":"rule","stroke":"#0d4058","strokeWidth":1.3,"xOffset":0.6},"encoding":{"x":{"field":"p","type":"quantitative"},"y":{"field":"v","type":"quantitative"},"y2":{"datum":0}}},
{"data":{"name":"sitesC"},"mark":{"type":"rule","stroke":"#ffd966","strokeWidth":1.2},"encoding":{"x":{"field":"p","type":"quantitative"},"y":{"field":"s","type":"quantitative"},"y2":{"datum":0}}},
{"data":{"name":"sitesC"},"mark":{"type":"text","fontSize":6,"font":"DejaVu Sans","fill":"#444","align":"right","dx":-2,"dy":3},"encoding":{"x":{"field":"p","type":"quantitative"},"y":{"field":"s","type":"quantitative"},"text":{"field":"s","type":"quantitative","format":".1f"}}},
{"data":{"name":"donorsC"},"mark":{"type":"rule","stroke":"#ffe699","strokeWidth":3},"encoding":{"x":{"field":"p","type":"quantitative"},"y":{"field":"light","type":"quantitative"},"y2":{"field":"dark"}}},
{"data":{"name":"donorsC"},"mark":{"type":"rule","stroke":"#f6b300","strokeWidth":3},"encoding":{"x":{"field":"p","type":"quantitative"},"y":{"field":"dark","type":"quantitative"},"y2":{"field":"low"}}},
{"data":{"values":[{"p":28.53,"y":-6.4}]},"mark":{"type":"rule","stroke":"#f4a0a0","strokeWidth":1.4},"encoding":{"x":{"field":"p","type":"quantitative"},"y":{"field":"y","type":"quantitative"},"y2":{"datum":-0.8}}},
{"data":{"name":"notesC"},"mark":{"type":"text","fontSize":5.5,"font":"DejaVu Sans","fill":"#555","align":"right","dx":-2,"baseline":"middle"},"encoding":{"x":{"field":"p","type":"quantitative"},"y":{"field":"y","type":"quantitative"},"text":{"field":"t"}}},
{"data":{"name":"seq"},"transform":[{"filter":"datum.w<0"}],"mark":{"type":"text","fontSize":5.5,"font":"DejaVu Sans","fill":"#555","baseline":"middle"},"encoding":{"x":{"field":"p","type":"quantitative"},"y":{"datum":0.66},"text":{"field":"b"}}},
{"data":{"name":"seq"},"transform":[{"filter":"!(datum.w<0)"}],"mark":{"type":"text","fontSize":5.5,"font":"DejaVu Sans","fill":"#555","baseline":"middle"},"encoding":{"x":{"field":"p","type":"quantitative"},"y":{"datum":-0.86},"text":{"field":"b"}}},
{"data":{"name":"under"},"mark":{"type":"rule","strokeWidth":1.6},"encoding":{"x":{"field":"p1","type":"quantitative"},"x2":{"field":"p2"},"y":{"datum":-2.5},"color":{"field":"k","type":"nominal","scale":{"domain":["NTD","CCD","CTD","ESE","ESS","green","yellow","red","headGreen","headRed"],"range":["#a9c3e8","#fdad7a","#525252","#00b050","#f01820","#5cb85c","#ffc000","#ee2a2a","#3aaa35","#e00000"]}}}},
{"data":{"name":"ticks"},"mark":{"type":"text","fontSize":6,"font":"DejaVu Sans","fill":"#333","align":"right","baseline":"middle"},"encoding":{"x":{"datum":-1.14},"y":{"field":"t","type":"quantitative"},"text":{"field":"t","type":"quantitative"}}},
{"data":{"name":"labelsC"},"mark":{"type":"text","fontSize":17,"fill":"#262626","baseline":"middle","dy":1.5},"encoding":{"x":{"field":"p","type":"quantitative"},"y":{"field":"y","type":"quantitative"},"text":{"field":"t"}}},
{"data":{"name":"seq"},"mark":{"type":"text","fontSize":5.5,"font":"DejaVu Sans","fontWeight":"bold","fill":"#666","baseline":"middle"},"encoding":{"x":{"field":"p","type":"quantitative"},"y":{"datum":-20.77},"text":{"field":"b"}}},
{"data":{"name":"seq"},"transform":[{"filter":"datum.p!=123&&datum.p!=125"}],"mark":{"type":"text","fontSize":5.5,"font":"DejaVu Sans","fontWeight":"bold","fill":"#666","baseline":"middle"},"encoding":{"x":{"field":"p","type":"quantitative"},"y":{"datum":-21.96},"text":{"field":"b"}}},
{"data":{"name":"mutC"},"mark":{"type":"text","fontSize":5.5,"font":"DejaVu Sans","fontWeight":"bold","fill":"#f02020","baseline":"middle"},"encoding":{"x":{"field":"p","type":"quantitative"},"y":{"datum":-21.96},"text":{"field":"b"}}},
{"data":{"values":[{"p":125.4,"y":6.11}]},"mark":{"type":"point","filled":false,"stroke":"#444","opacity":1,"strokeWidth":1.2,"size":55885,"shape":"M-0.795,0A0.795,1,0,1,1,0.795,0A0.795,1,0,1,1,-0.795,0Z"},"encoding":{"x":{"field":"p","type":"quantitative"},"y":{"field":"y","type":"quantitative"}}},
{"data":{"values":[{"x1":-3.58,"x2":192.227,"y":30.75},{"x1":-3.58,"x2":192.227,"y":-22.96}]},"mark":{"type":"rule","stroke":"#555","strokeWidth":1.5},"encoding":{"x":{"field":"x1","type":"quantitative"},"x2":{"field":"x2"},"y":{"field":"y","type":"quantitative"}}},
{"data":{"values":[{"x":-3.58,"y1":30.75,"y2":-22.96}]},"mark":{"type":"rule","stroke":"#555","strokeWidth":1.5},"encoding":{"x":{"field":"x","type":"quantitative"},"y":{"field":"y1","type":"quantitative"},"y2":{"field":"y2"}}},
{"data":{"values":[{"p":-3.06,"y":33,"t":"V260I"}]},"mark":{"type":"text","fontSize":15.5,"fontWeight":"bold","fill":"#262626","align":"left","baseline":"middle","dy":1},"encoding":{"x":{"field":"p","type":"quantitative"},"y":{"field":"y","type":"quantitative"},"text":{"field":"t"}}}
]},
{"width":1139,"height":296,"layer":[
{"data":{"name":"grid"},"mark":{"type":"rule","stroke":"#d9d9d9","strokeWidth":1.5},"encoding":{"x":{"datum":-0.79,"type":"quantitative","scale":{"domain":[-6.906,192.227],"nice":false,"zero":false}},"x2":{"datum":191.9},"y":{"field":"g","type":"quantitative","scale":{"domain":[-22.91,35.7],"nice":false,"zero":false}}}},
{"data":{"name":"masksR"},"mark":{"type":"rect","fill":"white"},"encoding":{"x":{"field":"x1","type":"quantitative"},"x2":{"field":"x2"},"y":{"field":"y1","type":"quantitative"},"y2":{"field":"y2"}}},
{"data":{"values":[{"g":0}]},"mark":{"type":"rule","stroke":"#bdbdbd","strokeWidth":1},"encoding":{"x":{"datum":-0.79,"type":"quantitative"},"x2":{"datum":191.9},"y":{"field":"g","type":"quantitative"}}},
{"data":{"values":[{"g":29.6,"h":-19.5}]},"mark":{"type":"rule","stroke":"#d0d0d0","strokeWidth":1.5},"encoding":{"x":{"datum":-0.79,"type":"quantitative"},"y":{"field":"g","type":"quantitative"},"y2":{"field":"h"}}},
{"data":{"name":"seq"},"mark":{"type":"rule","stroke":"#1ba6dd","strokeWidth":2,"xOffset":-0.5},"encoding":{"x":{"field":"p","type":"quantitative"},"y":{"field":"w","type":"quantitative"},"y2":{"datum":0}}},
{"data":{"name":"seq"},"mark":{"type":"rule","stroke":"#0d4058","strokeWidth":1.3,"xOffset":0.6},"encoding":{"x":{"field":"p","type":"quantitative"},"y":{"field":"r","type":"quantitative"},"y2":{"datum":0}}},
{"data":{"name":"sitesB"},"mark":{"type":"rule","stroke":"#ffd966","strokeWidth":1.2},"encoding":{"x":{"field":"p","type":"quantitative"},"y":{"field":"s","type":"quantitative"},"y2":{"datum":0}}},
{"data":{"name":"sitesB"},"mark":{"type":"text","fontSize":6,"font":"DejaVu Sans","fill":"#444","align":"right","dx":-2,"dy":3},"encoding":{"x":{"field":"p","type":"quantitative"},"y":{"field":"s","type":"quantitative"},"text":{"field":"s","type":"quantitative","format":".1f"}}},
{"data":{"name":"donorsR"},"mark":{"type":"rule","stroke":"#ffe699","strokeWidth":3},"encoding":{"x":{"field":"p","type":"quantitative"},"y":{"field":"light","type":"quantitative"},"y2":{"field":"dark"}}},
{"data":{"name":"donorsR"},"mark":{"type":"rule","stroke":"#f6b300","strokeWidth":3},"encoding":{"x":{"field":"p","type":"quantitative"},"y":{"field":"dark","type":"quantitative"},"y2":{"field":"low"}}},
{"data":{"values":[{"p":28.53,"y":-6.4}]},"mark":{"type":"rule","stroke":"#f4a0a0","strokeWidth":1.4},"encoding":{"x":{"field":"p","type":"quantitative"},"y":{"field":"y","type":"quantitative"},"y2":{"datum":-0.2}}},
{"data":{"name":"notesR"},"mark":{"type":"text","fontSize":5.5,"font":"DejaVu Sans","fill":"#555","align":"right","dx":-2,"baseline":"middle"},"encoding":{"x":{"field":"p","type":"quantitative"},"y":{"field":"y","type":"quantitative"},"text":{"field":"t"}}},
{"data":{"name":"seq"},"transform":[{"filter":"datum.w<0"}],"mark":{"type":"text","fontSize":5.5,"font":"DejaVu Sans","fill":"#555","baseline":"middle"},"encoding":{"x":{"field":"p","type":"quantitative"},"y":{"datum":0.66},"text":{"field":"b"}}},
{"data":{"name":"seq"},"transform":[{"filter":"!(datum.w<0)"}],"mark":{"type":"text","fontSize":5.5,"font":"DejaVu Sans","fill":"#555","baseline":"middle"},"encoding":{"x":{"field":"p","type":"quantitative"},"y":{"datum":-0.86},"text":{"field":"b"}}},
{"data":{"name":"under"},"mark":{"type":"rule","strokeWidth":1.6},"encoding":{"x":{"field":"p1","type":"quantitative"},"x2":{"field":"p2"},"y":{"datum":-1.9},"color":{"field":"k","type":"nominal","scale":{"domain":["NTD","CCD","CTD","ESE","ESS","green","yellow","red","headGreen","headRed"],"range":["#a9c3e8","#fdad7a","#525252","#00b050","#f01820","#5cb85c","#ffc000","#ee2a2a","#3aaa35","#e00000"]}}}},
{"data":{"name":"ticks"},"mark":{"type":"text","fontSize":6,"font":"DejaVu Sans","fill":"#333","align":"right","baseline":"middle"},"encoding":{"x":{"datum":-1.14},"y":{"field":"t","type":"quantitative"},"text":{"field":"t","type":"quantitative"}}},
{"data":{"name":"labelsR"},"mark":{"type":"text","fontSize":17,"fill":"#262626","baseline":"middle","dy":1.5},"encoding":{"x":{"field":"p","type":"quantitative"},"y":{"field":"y","type":"quantitative"},"text":{"field":"t"}}},
{"data":{"name":"seq"},"mark":{"type":"text","fontSize":5.5,"font":"DejaVu Sans","fontWeight":"bold","fill":"#666","baseline":"middle"},"encoding":{"x":{"field":"p","type":"quantitative"},"y":{"datum":-20.73},"text":{"field":"b"}}},
{"data":{"name":"seq"},"transform":[{"filter":"datum.p!=133"}],"mark":{"type":"text","fontSize":5.5,"font":"DejaVu Sans","fontWeight":"bold","fill":"#666","baseline":"middle"},"encoding":{"x":{"field":"p","type":"quantitative"},"y":{"datum":-22.05},"text":{"field":"b"}}},
{"data":{"name":"mutR"},"mark":{"type":"text","fontSize":5.5,"font":"DejaVu Sans","fontWeight":"bold","fill":"#f02020","baseline":"middle"},"encoding":{"x":{"field":"p","type":"quantitative"},"y":{"datum":-22.05},"text":{"field":"b"}}},
{"data":{"values":[{"p":131.5,"y":6}]},"mark":{"type":"point","filled":false,"stroke":"#444","opacity":1,"strokeWidth":1.2,"size":57121,"shape":"M-0.795,0A0.795,1,0,1,1,0.795,0A0.795,1,0,1,1,-0.795,0Z"},"encoding":{"x":{"field":"p","type":"quantitative"},"y":{"field":"y","type":"quantitative"}}},
{"data":{"values":[{"x1":-3.41,"x2":192.227,"y":30.69}]},"mark":{"type":"rule","stroke":"#555","strokeWidth":1.5},"encoding":{"x":{"field":"x1","type":"quantitative"},"x2":{"field":"x2"},"y":{"field":"y","type":"quantitative"}}},
{"data":{"values":[{"x":-3.41,"y1":30.69,"y2":-22.91}]},"mark":{"type":"rule","stroke":"#555","strokeWidth":1.5},"encoding":{"x":{"field":"x","type":"quantitative"},"y":{"field":"y1","type":"quantitative"},"y2":{"field":"y2"}}},
{"data":{"values":[{"p":-2.9,"y":33.72,"t":"R263K"}]},"mark":{"type":"text","fontSize":15.5,"fontWeight":"bold","fill":"#262626","align":"left","baseline":"middle","dy":1},"encoding":{"x":{"field":"p","type":"quantitative"},"y":{"field":"y","type":"quantitative"},"text":{"field":"t"}}}
]}
]}
